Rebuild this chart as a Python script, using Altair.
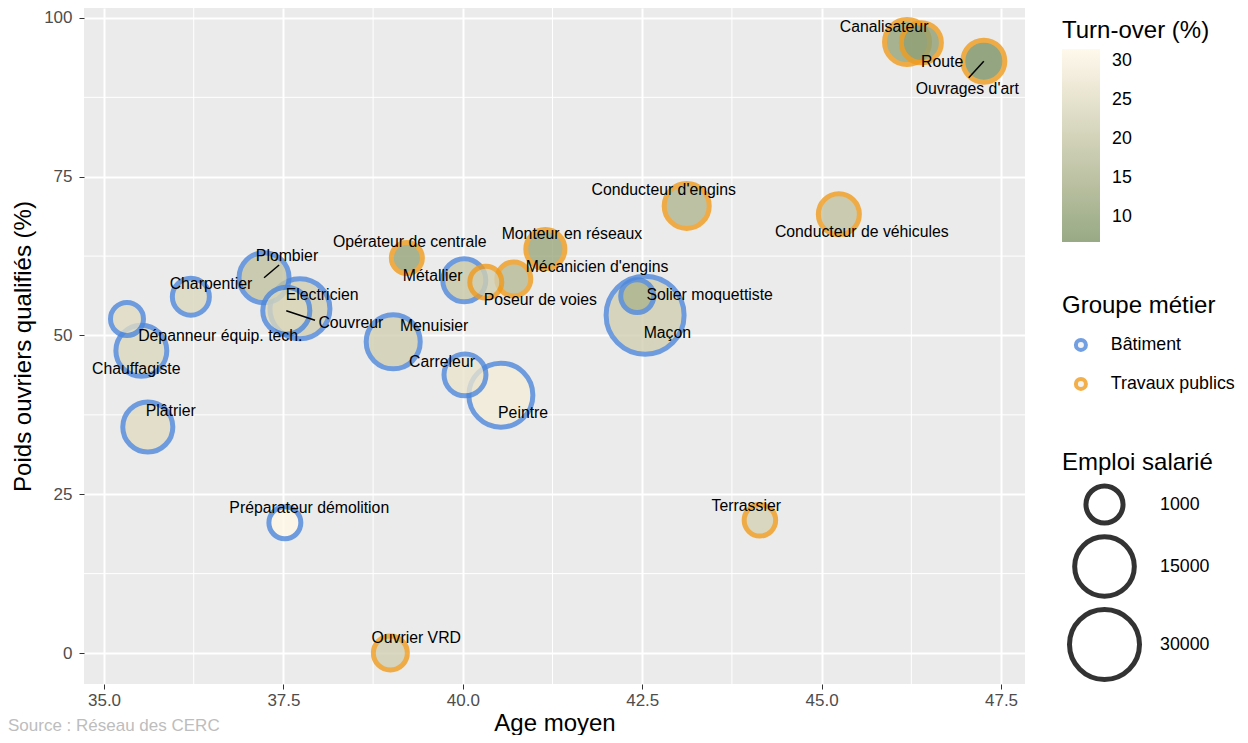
import altair as alt
import pandas as pd

metiers = ["Dépanneur équip. tech.", "Chauffagiste", "Plâtrier", "Charpentier", "Plombier",
           "Couvreur", "Electricien", "Préparateur démolition", "Menuisier", "Métallier",
           "Carreleur", "Peintre", "Maçon", "Solier moquettiste", "Opérateur de centrale",
           "Poseur de voies", "Mécanicien d'engins", "Monteur en réseaux", "Conducteur d'engins",
           "Conducteur de véhicules", "Canalisateur", "Route", "Ouvrages d'art", "Terrassier",
           "Ouvrier VRD"]
groupes = ["Bâtiment"] * 14 + ["Travaux publics"] * 11
age_moyen = [35.32, 35.52, 35.61, 36.21, 37.23, 37.54, 37.73, 37.52, 39.03, 40.02, 40.03, 40.53,
             42.54, 42.43, 39.22, 40.32, 40.71, 41.15, 43.12, 45.24, 46.19, 46.39, 47.26, 44.14,
             38.99]
poids_qualifies = [52.6, 47.6, 35.6, 56.1, 59.1, 53.9, 54.2, 20.5, 49.0, 58.7, 43.8, 40.6, 53.2,
                   56.2, 62.2, 58.4, 58.9, 63.6, 70.4, 69.1, 96.2, 96.1, 93.2, 20.9, 0.0]
emploi = [310, 7100, 6500, 980, 6500, 4700, 15400, 200, 9500, 2800, 2400, 20500, 46700, 310,
          120, 200, 440, 1470, 3660, 2070, 3660, 1760, 2420, 160, 440]
turnover = [25, 24, 25, 24, 19, 24, 22, 31.5, 22, 20, 27, 29, 22, 15, 11, 22, 17, 12, 16, 19,
            11, 10, 6.8, 23, 22]
label_x = [36.62, 35.45, 35.93, 36.49, 37.55, 38.44, 38.04, 37.86, 39.60, 39.58, 39.71, 40.84,
           42.85, 43.44, 39.26, 41.08, 41.87, 41.52, 42.80, 45.56, 45.87, 46.68, 47.03, 43.95,
           39.35]
label_y = [49.9, 44.7, 38.1, 58.1, 62.5, 52.0, 56.4, 22.8, 51.5, 59.4, 45.8, 37.8, 50.4, 56.4,
           64.7, 55.6, 60.8, 66.0, 72.9, 66.3, 98.6, 93.1, 88.8, 23.1, 2.4]

seg_metiers = ["Plombier", "Couvreur", "Ouvrages d'art"]
seg_x2 = [37.44, 37.94, 47.05]
seg_y2 = [61.1, 52.4, 90.6]

x_ticks = [35.0, 37.5, 40.0, 42.5, 45.0, 47.5]
y_ticks = [0, 25, 50, 75, 100]
x_minor = [36.25, 38.75, 41.25, 43.75, 46.25]
y_minor = [12.5, 37.5, 62.5, 87.5]

df = pd.DataFrame({"metier": metiers, "groupe": groupes, "age": age_moyen,
                   "qualif": poids_qualifies, "emploi": emploi, "turnover": turnover,
                   "lx": label_x, "ly": label_y})
seg = pd.DataFrame({"metier": seg_metiers, "x2": seg_x2, "y2": seg_y2}).merge(
    df[["metier", "age", "qualif"]], on="metier")

x_scale = alt.Scale(domain=[34.721, 47.834], nice=False, zero=False)
y_scale = alt.Scale(domain=[-4.88, 101.57], nice=False, zero=False)
x_axis = alt.Axis(title="Age moyen", values=x_ticks, format=".1f")
y_axis = alt.Axis(title="Poids ouvriers qualifiés (%)", values=y_ticks)


def X(f):
    return alt.X(f, scale=x_scale, axis=x_axis)


def Y(f):
    return alt.Y(f, scale=y_scale, axis=y_axis)


vminor = alt.Chart(pd.DataFrame({"v": x_minor})).mark_rule(color="white", strokeWidth=1).encode(
    x=X("v:Q"))
hminor = alt.Chart(pd.DataFrame({"v": y_minor})).mark_rule(color="white", strokeWidth=1).encode(
    y=Y("v:Q"))

points = alt.Chart(df).mark_circle(strokeWidth=5, opacity=0.8).encode(
    x=X("age:Q"),
    y=Y("qualif:Q"),
    fill=alt.Fill("turnover:Q",
                  scale=alt.Scale(domain=[min(turnover), max(turnover)],
                                  range=["#7E9467", "#FFF8E8"]),
                  legend=alt.Legend(title="Turn-over (%)", orient="none", legendX=978,
                                    legendY=11, values=[10, 15, 20, 25, 30],
                                    gradientLength=193, gradientThickness=38,
                                    gradientStrokeWidth=0, labelOffset=12, titlePadding=6)),
    stroke=alt.Stroke("groupe:N",
                      scale=alt.Scale(domain=["Bâtiment", "Travaux publics"],
                                      range=["#4F88DB", "#F09C1E"]),
                      legend=alt.Legend(title="Groupe métier", orient="none", legendX=978,
                                        legendY=286, symbolSize=100, symbolStrokeWidth=4,
                                        symbolFillColor="#F2F2F2", rowPadding=12,
                                        titlePadding=18, labelOffset=21, symbolOffset=10)),
    size=alt.Size("emploi:Q",
                  scale=alt.Scale(type="pow", exponent=0.57, domain=[0, 30000],
                                  range=[784, 4900]),
                  legend=alt.Legend(title="Emploi salarié", orient="none", legendX=978,
                                    legendY=443, values=[1000, 15000, 30000], format="d",
                                    symbolFillColor="transparent", symbolStrokeColor="#333333",
                                    symbolStrokeWidth=5, symbolOpacity=1, labelOffset=18,
                                    symbolOffset=5, rowPadding=-35, titlePadding=8)),
    order=alt.Order("emploi:Q", sort="descending"),
)

segments = alt.Chart(seg).mark_rule(color="black", strokeWidth=1.5).encode(
    x=X("age:Q"), y=Y("qualif:Q"), x2="x2:Q", y2="y2:Q")

labels = alt.Chart(df).mark_text(font="Liberation Sans", fontSize=15.8, color="black").encode(
    x=X("lx:Q"), y=Y("ly:Q"), text="metier:N")

caption = alt.Chart(pd.DataFrame({"t": ["Source : Réseau des CERC"]})).mark_text(
    align="left", baseline="middle", font="Liberation Sans", fontSize=17,
    color="#BDBDBD").encode(x=alt.value(-76), y=alt.value(718), text="t:N")

chart = alt.layer(vminor, hminor, points, segments, labels, caption).properties(
    width=941, height=676,
    padding={"left": 76, "top": 0, "right": 215, "bottom": 51},
    autosize=alt.AutoSizeParams(type="none"),
).configure_view(fill="#EBEBEB", stroke=None).configure_axis(
    grid=True, gridColor="white", gridWidth=2, domain=False,
    tickColor="#333333", tickSize=5, tickWidth=1,
    labelFont="Liberation Sans", labelFontSize=17, labelColor="#4D4D4D",
    titleFont="Liberation Sans", titleFontSize=24, titleFontWeight="normal", titleColor="black",
).configure_axisX(labelPadding=3, titlePadding=3).configure_axisY(
    labelPadding=7, titlePadding=8).configure_legend(
    titleFont="Liberation Sans", titleFontSize=24, titleFontWeight="normal", titleColor="black",
    labelFont="Liberation Sans", labelFontSize=17.8, labelColor="black", titlePadding=10,
)

chart.save("out.html", embed_options={"renderer": "svg", "actions": False})
